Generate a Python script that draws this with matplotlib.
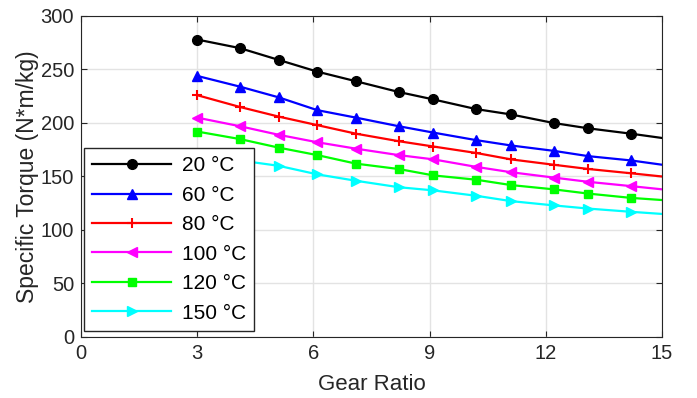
import numpy as np
import matplotlib
matplotlib.use('Agg')
from matplotlib import pyplot as plt

# Gear ratio points (last point has no marker)
gear_ratio = [3.0, 4.1, 5.1, 6.1, 7.1, 8.2, 9.1, 10.2, 11.1, 12.2, 13.1, 14.2, 15.0]

# Specific torque per temperature (N*m/kg)
torque_20 = [278, 270, 259, 248, 239, 229, 222, 213, 208, 200, 195, 190, 186]
torque_60 = [244, 234, 224, 212, 205, 197, 191, 184, 179, 174, 169, 165, 161]
torque_80 = [226, 215, 206, 198, 190, 183, 178, 172, 166, 161, 157, 153, 150]
torque_100 = [205, 197, 189, 182, 176, 170, 166, 159, 154, 149, 145, 141, 138]
torque_120 = [192, 185, 177, 170, 162, 157, 151, 147, 142, 138, 134, 130, 128]
torque_150 = [172, 165, 160, 152, 146, 140, 137, 132, 127, 123, 120, 117, 115]

labels = ['20 °C', '60 °C', '80 °C', '100 °C', '120 °C', '150 °C']
series = [torque_20, torque_60, torque_80, torque_100, torque_120, torque_150]
colors = ['black', 'blue', 'red', 'magenta', '#00ff00', 'cyan']
markers = ['o', '^', '+', '<', 's', '>']
sizes = [7, 7, 7, 7, 6, 7]

plt.rcParams['font.family'] = ['Liberation Sans', 'DejaVu Sans']
fig = plt.figure(figsize=(6.97, 3.98), dpi=100)
ax = fig.add_axes([0.1162, 0.1533, 0.8336, 0.8065])

for y, c, m, ms, lab in zip(series, colors, markers, sizes, labels):
    mew = 1.5 if m == '+' else 1
    ax.plot(gear_ratio, y, color=c, marker=m, markersize=ms, markeredgewidth=mew,
            linewidth=1.6, markevery=slice(0, 12), label=lab)

ax.set_xlim(0, 15)
ax.set_ylim(0, 300)
ax.set_xticks([0, 3, 6, 9, 12, 15])
ax.set_yticks(np.arange(0, 301, 50))
ax.grid(True, color='#e3e3e3', linewidth=1)
ax.set_axisbelow(True)
ax.tick_params(direction='in', top=True, right=True, labelsize=14.5, colors='#262626',
               length=4, pad=5)
for s in ax.spines.values():
    s.set_color('#262626')
ax.set_xlabel('Gear Ratio', fontsize=16, color='#262626', labelpad=8)
ax.set_ylabel('Specific Torque (N*m/kg)', fontsize=16.5, color='#262626', labelpad=1)

leg = ax.legend(loc='lower left', bbox_to_anchor=(0.005, 0.019), borderaxespad=0,
                fontsize=15, handlelength=3.8, labelspacing=0.5, fancybox=False,
                framealpha=1, edgecolor='#262626', borderpad=0.4, handletextpad=0.5)
leg.get_frame().set_linewidth(1)

fig.savefig('out.png', dpi=100)
